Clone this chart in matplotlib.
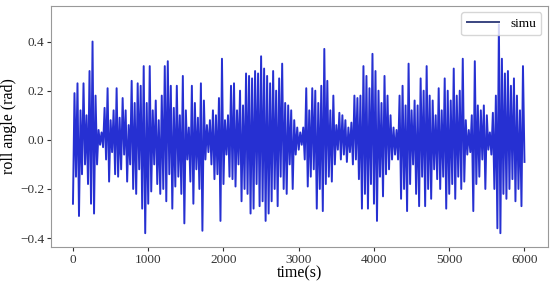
import numpy as np
import matplotlib
matplotlib.use('Agg')
import matplotlib.pyplot as plt

plt.rcParams['font.family'] = ['Liberation Serif', 'DejaVu Serif']

# время с шагом 20 с
step = 20
roll = [
    -0.26, 0.19, -0.15, 0.23, -0.31, 0.12, -0.14, 0.23, -0.10, 0.10,
    -0.18, 0.28, -0.26, 0.40, -0.30, 0.18, -0.10, 0.04, -0.02, 0.03,
    -0.03, 0.13, -0.08, 0.21, -0.17, 0.08, -0.05, 0.12, -0.14, 0.21,
    -0.15, 0.09, -0.12, 0.17, -0.06, 0.12, -0.17, 0.06, -0.10, 0.24,
    -0.20, 0.15, -0.22, 0.23, -0.12, 0.22, -0.28, 0.30, -0.38, 0.15,
    -0.26, 0.30, -0.21, 0.12, -0.10, 0.16, -0.18, 0.08, -0.22, 0.18,
    -0.20, 0.30, -0.25, 0.32, -0.14, 0.22, -0.28, 0.13, -0.19, 0.22,
    -0.15, 0.10, -0.22, 0.26, -0.34, 0.12, -0.08, 0.05, -0.17, 0.22,
    -0.26, 0.15, -0.12, 0.09, -0.20, 0.23, -0.37, 0.16, -0.08, 0.06,
    -0.05, 0.08, -0.10, 0.12, -0.16, 0.10, -0.14, 0.17, -0.33, 0.33,
    -0.18, 0.08, -0.06, 0.10, -0.15, 0.22, -0.16, 0.23, -0.19, 0.12,
    -0.10, 0.20, -0.25, 0.14, -0.20, 0.27, -0.22, 0.26, -0.30, 0.25,
    -0.28, 0.28, -0.18, 0.27, -0.27, 0.34, -0.25, 0.29, -0.33, 0.26,
    -0.30, 0.23, -0.25, 0.28, -0.20, 0.20, -0.27, 0.25, -0.15, 0.31,
    -0.20, 0.15, -0.22, 0.14, -0.10, 0.12, -0.20, 0.08, -0.06, 0.05,
    -0.04, 0.03, -0.02, 0.05, -0.08, 0.21, -0.19, 0.12, -0.15, 0.21,
    -0.12, 0.20, -0.28, 0.15, -0.20, 0.22, -0.29, 0.37, -0.18, 0.24,
    -0.15, 0.12, -0.17, 0.18, -0.10, 0.06, -0.04, 0.11, -0.08, 0.10,
    -0.06, 0.08, -0.09, 0.05, -0.05, 0.07, -0.10, 0.18, -0.08, 0.17,
    -0.16, 0.18, -0.28, 0.30, -0.22, 0.26, -0.28, 0.21, -0.18, 0.35,
    -0.26, 0.28, -0.33, 0.20, -0.15, 0.15, -0.23, 0.26, -0.14, 0.18,
    -0.12, 0.10, -0.08, 0.05, -0.06, 0.04, -0.08, 0.18, -0.24, 0.22,
    -0.20, 0.14, -0.29, 0.31, -0.18, 0.12, -0.10, 0.16, -0.22, 0.14,
    -0.27, 0.25, -0.15, 0.20, -0.27, 0.30, -0.20, 0.18, -0.24, 0.16,
    -0.12, 0.10, -0.16, 0.21, -0.20, 0.12, -0.15, 0.25, -0.28, 0.20,
    -0.22, 0.16, -0.18, 0.29, -0.24, 0.18, -0.15, 0.20, -0.20, 0.33,
    -0.17, 0.08, -0.06, 0.04, -0.05, 0.10, -0.29, 0.32, -0.18, 0.14,
    -0.15, 0.12, -0.08, 0.14, -0.20, 0.10, -0.04, 0.03, -0.06, 0.11,
    -0.20, 0.18, -0.36, 0.47, -0.38, 0.33, -0.22, 0.27, -0.24, 0.28,
    -0.20, 0.22, -0.16, 0.25, -0.25, 0.18, -0.20, 0.12, -0.27, 0.30,
    -0.09,
]
time = np.arange(len(roll)) * step

fig = plt.figure(figsize=(5.5, 2.81), dpi=100)
ax = fig.add_axes([0.093, 0.122, 0.903, 0.857])
ax.plot(time, roll, color='#2630d2', linewidth=1.4, label='simu')

ax.set_xlim(-290, 6310)
ax.set_ylim(-0.435, 0.545)
ax.set_xticks([0, 1000, 2000, 3000, 4000, 5000, 6000])
ax.set_yticks([-0.4, -0.2, 0.0, 0.2, 0.4])
ax.tick_params(labelsize=9.5, colors='#333333', length=3, pad=2)
ax.set_xlabel('time(s)', fontsize=11.5, labelpad=0)
ax.set_ylabel('roll angle (rad)', fontsize=11.5, labelpad=2)
for s in ax.spines.values():
    s.set_color('#999999')

leg = ax.legend(loc='upper right', fontsize=9.5, handlelength=2.5)
leg.get_lines()[0].set_color('#3a4580')

fig.savefig('out.png', dpi=100)
